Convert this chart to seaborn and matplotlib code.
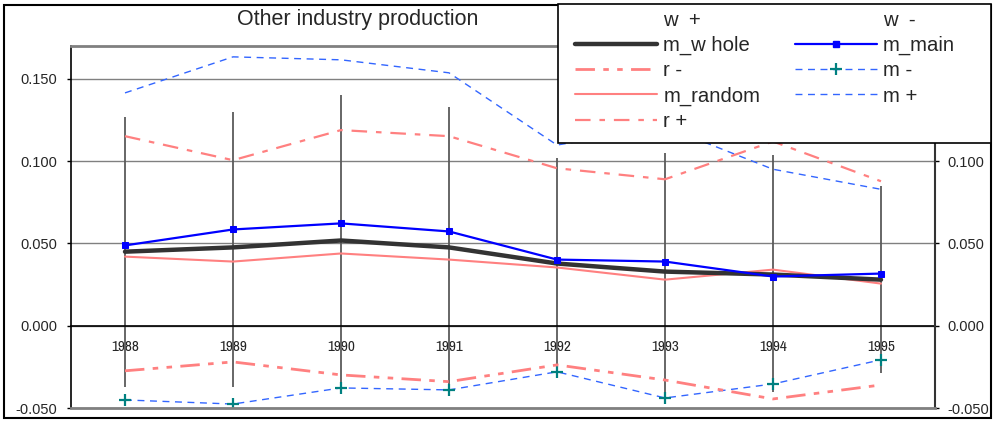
import matplotlib
matplotlib.use("Agg")
import matplotlib.pyplot as plt
from matplotlib import font_manager
from matplotlib.lines import Line2D
from matplotlib.patches import Rectangle
from matplotlib.ticker import FormatStrFormatter
import numpy as np
import pandas as pd
import seaborn as sns

years = ["1988", "1989", "1990", "1991", "1992", "1993", "1994", "1995"]

w_plus = [0.127, 0.130, 0.140, 0.133, 0.102, 0.105, 0.104, 0.085]
w_minus = [-0.037, -0.037, -0.038, -0.041, -0.030, -0.045, -0.040, -0.029]
m_whole = [0.045, 0.0476, 0.0518, 0.0476, 0.0378, 0.0329, 0.0311, 0.028]
m_main = [0.0488, 0.0585, 0.0622, 0.0573, 0.0402, 0.039, 0.0299, 0.0317]
m_random = [0.042, 0.039, 0.0439, 0.0402, 0.0354, 0.028, 0.0341, 0.0256]
r_minus = [-0.0274, -0.022, -0.0299, -0.034, -0.0238, -0.033, -0.0445, -0.036]
r_plus = [0.1152, 0.1006, 0.1189, 0.1152, 0.0957, 0.089, 0.112, 0.0878]
m_minus = [-0.0451, -0.0476, -0.0378, -0.039, -0.028, -0.0439, -0.0354, -0.0207]
m_plus = [0.1415, 0.1634, 0.1616, 0.1537, 0.1098, 0.121, 0.0951, 0.0829]

df = pd.DataFrame({
    "year": years, "w+": w_plus, "w-": w_minus, "m_whole": m_whole,
    "m_main": m_main, "m_random": m_random, "r-": r_minus, "r+": r_plus,
    "m-": m_minus, "m+": m_plus,
})

sns.set_style("white")
plt.rcParams["font.family"] = ["Liberation Sans", "DejaVu Sans"]
plt.rcParams["axes.unicode_minus"] = False

# year labels in the original are narrow; use a narrow face when one exists
narrow = sorted({f.name for f in font_manager.fontManager.ttflist
                 if "Narrow" in f.name or "Condensed" in f.name})
year_font = narrow[0] if narrow else "Liberation Sans"
year_size = 11 if narrow else 10

W, H = 995, 423
fig = plt.figure(figsize=(W / 100, H / 100), dpi=100)
ax = fig.add_axes([71 / W, 1 - 408 / H, (935 - 71) / W, (408 - 46) / H])

PINK = "#FF8080"
MBLUE = "#3366FF"
RM_DASH = (0, (7, 3, 2, 3, 2, 3))
RP_DASH = (0, (7, 4, 2.5, 4))
M_DASH = (0, (5, 4))

# high-low lines between w+ and w-
ax.vlines(df["year"], df["w-"], df["w+"], color="#5a5a5a", lw=1.3, zorder=2)

sns.lineplot(data=df, x="year", y="m+", ax=ax, color=MBLUE, lw=1,
             linestyle=M_DASH, zorder=3)
sns.lineplot(data=df, x="year", y="m-", ax=ax, color=MBLUE, lw=1,
             linestyle=M_DASH, marker="+", ms=8, mew=1.6,
             mec="#008080", zorder=3)
sns.lineplot(data=df, x="year", y="r+", ax=ax, color=PINK, lw=1.6,
             linestyle=RP_DASH, zorder=3)
sns.lineplot(data=df, x="year", y="r-", ax=ax, color=PINK, lw=2,
             linestyle=RM_DASH, zorder=3)
sns.lineplot(data=df, x="year", y="m_random", ax=ax, color=PINK, lw=1.5,
             zorder=4)
sns.lineplot(data=df, x="year", y="m_whole", ax=ax, color="#333333", lw=3.2,
             zorder=5)
sns.lineplot(data=df, x="year", y="m_main", ax=ax, color="#0000FF", lw=1.6,
             marker="s", ms=4, mec="#0000FF", zorder=6)

ax.set_xlim(-0.5, len(years) - 0.5)
ax.set_ylim(-0.05, 0.17)
ax.set_xlabel("")
ax.set_ylabel("")
ax.set_yticks([-0.05, 0.0, 0.05, 0.10, 0.15])
ax.yaxis.set_major_formatter(FormatStrFormatter("%.3f"))
ax.yaxis.grid(True, color="#808080", lw=1)
ax.set_axisbelow(True)

ax.spines["bottom"].set_position(("data", 0))
ax.spines["bottom"].set_color("black")
ax.spines["bottom"].set_linewidth(1.2)
ax.spines["left"].set_color("black")
ax.spines["left"].set_linewidth(1.2)
ax.spines["top"].set_visible(False)
ax.spines["right"].set_visible(False)

ax.set_xticks(np.arange(-0.5, len(years), 1), minor=True)
ax.tick_params(axis="x", which="major", length=0, pad=10)
ax.tick_params(axis="x", which="minor", length=3, width=1, direction="out", color="black")
ax.tick_params(axis="y", length=3, width=1, direction="out", color="black",
               pad=7, labelsize=10.5, left=True)
for lab in ax.get_xticklabels():
    lab.set_family(year_font)
    lab.set_fontsize(year_size)

ax2 = ax.twinx()
ax2.set_ylim(-0.05, 0.17)
ax2.set_yticks([-0.05, 0.0, 0.05, 0.10])
ax2.yaxis.set_major_formatter(FormatStrFormatter("%.3f"))
ax2.tick_params(axis="y", length=3, width=1, direction="out", color="black",
                pad=6, labelsize=10.5, right=True)
ax2.spines["left"].set_visible(False)
ax2.spines["top"].set_color("#808080")
ax2.spines["top"].set_linewidth(2)
ax2.spines["bottom"].set_color("#808080")
ax2.spines["bottom"].set_linewidth(2)
ax2.spines["right"].set_color("#333333")
ax2.spines["right"].set_linewidth(1.5)

fig.text(358 / W, 1 - 9 / H, "Other industry production", ha="center", va="top",
         fontsize=15.5)

# chart border and legend box
fig.patches.append(Rectangle((4 / W, 5 / H), (991 - 4) / W, (418 - 5) / H,
                             transform=fig.transFigure, fill=False,
                             edgecolor="black", lw=1.5, zorder=0))
fig.patches.append(Rectangle((558 / W, 1 - 143 / H), (991 - 558) / W, (143 - 4) / H,
                             transform=fig.transFigure, facecolor="white",
                             edgecolor="black", lw=1.2, zorder=1))

blank = Line2D([], [], linestyle="none")
h = {
    "w  +": blank,
    "m_w hole": Line2D([], [], color="#333333", lw=3.2),
    "r -": Line2D([], [], color=PINK, lw=2, linestyle=RM_DASH),
    "m_random": Line2D([], [], color=PINK, lw=1.5),
    "r +": Line2D([], [], color=PINK, lw=1.6, linestyle=RP_DASH),
    "w  -": blank,
    "m_main": Line2D([], [], color="#0000FF", lw=1.6, marker="s", ms=4),
    "m -": Line2D([], [], color=MBLUE, lw=1, linestyle=M_DASH, marker="+",
                  ms=8, mew=1.6, mec="#008080"),
    "m +": Line2D([], [], color=MBLUE, lw=1, linestyle=M_DASH),
}
fig.legend(list(h.values()), list(h.keys()), ncol=2, frameon=False,
           loc="upper left", bbox_to_anchor=(575 / W, 1 - 11 / H),
           borderpad=0, borderaxespad=0, fontsize=14.6, handlelength=4.05,
           handletextpad=0.3, labelspacing=0.3, columnspacing=1.7)

fig.savefig("out.png", dpi=100)
